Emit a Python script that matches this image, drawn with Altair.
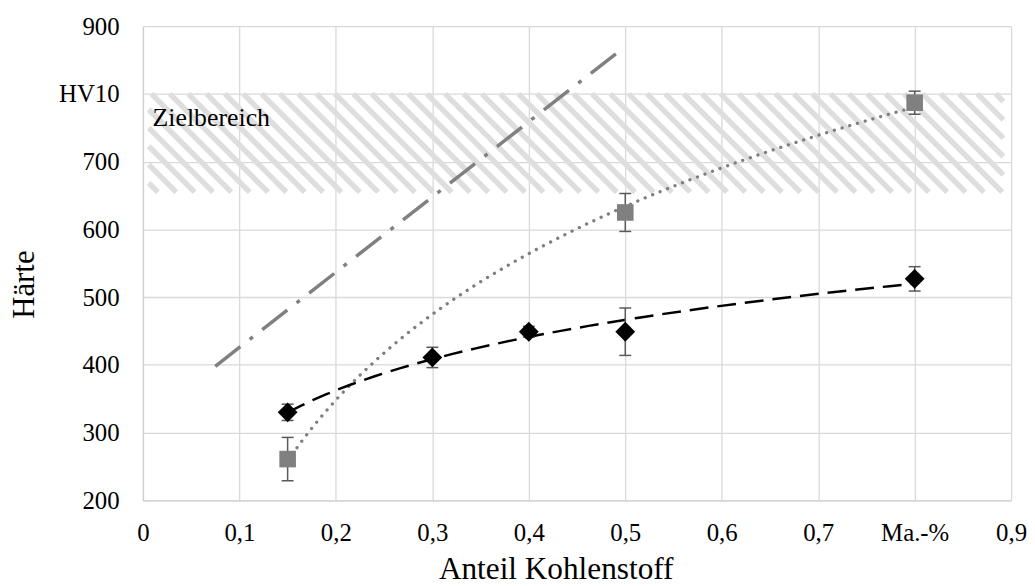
import altair as alt
import numpy as np
import pandas as pd

# ---------------- data ----------------
carbon_a = [0.15, 0.3, 0.4, 0.5, 0.8]
hard_a = [330, 411, 449, 449, 527]
err_a = [12, 15, 8, 35, 18]

carbon_b = [0.15, 0.5, 0.8]
hard_b = [261, 625, 787]
err_b = [32, 28, 17]

ref_x = [0.075, 0.5]
ref_h = [398, 870]

target_lo = 655
target_hi = 800
target_x = [0.006, 0.892]
target_text = ["Zielbereich"]
target_text_pos = [0.01, 752]

x_ticks = [0.0, 0.1, 0.2, 0.3, 0.4, 0.5, 0.6, 0.7, 0.8, 0.9]
y_ticks = [200, 300, 400, 500, 600, 700, 800, 900]

# ---------------- layout / style ----------------
W, H = 875, 478
XDOM = [0, 0.9]
YDOM = [200, 900]
FONT = "Liberation Serif"
GRID = "#d9d9d9"

df_a = pd.DataFrame({"x": carbon_a, "h": hard_a, "e": err_a})
df_a["lo"] = df_a["h"] - df_a["e"]
df_a["hi"] = df_a["h"] + df_a["e"]
df_b = pd.DataFrame({"x": carbon_b, "h": hard_b, "e": err_b})
df_b["lo"] = df_b["h"] - df_b["e"]
df_b["hi"] = df_b["h"] + df_b["e"]
df_ref = pd.DataFrame({"x": ref_x, "h": ref_h})
df_lab = pd.DataFrame({"x": [target_text_pos[0]], "h": [target_text_pos[1]], "t": target_text})

# hatch pattern for the target band (45 degree stripes, clipped to the band)
sx = W / (XDOM[1] - XDOM[0])
sy = H / (YDOM[1] - YDOM[0])
k = sy / sx  # x-units shift per HV unit (45 deg on screen)
spacing = 18.5 / sx
bx0, bx1 = target_x
shift = (target_hi - target_lo) * k
rows = []
for c in np.arange(bx0 - shift + spacing / 2, bx1, spacing):
    xa, ya = c, target_hi
    xb, yb = c + shift, target_lo
    if xa < bx0:
        ya = target_hi - (bx0 - c) / k
        xa = bx0
    if xb > bx1:
        yb = target_hi - (bx1 - c) / k
        xb = bx1
    if ya - yb > 1:
        rows.append({"xa": float(xa), "ya": float(ya), "xb": float(xb), "yb": float(yb)})
df_hatch = pd.DataFrame(rows)

x_scale = alt.Scale(domain=XDOM, nice=False, zero=False)
y_scale = alt.Scale(domain=YDOM, nice=False, zero=False)

x_axis = alt.Axis(
    values=x_ticks,
    title="Anteil Kohlenstoff",
    labelExpr="datum.value == 0 ? '0' : (abs(datum.value - 0.8) < 1e-6 ? 'Ma.-%' : replace(format(datum.value, '.1f'), '.', ','))",
    grid=True, gridColor=GRID, gridWidth=1.3,
    domainColor="#d0d0d0", domainWidth=1.3,
    ticks=False, tickSize=0, labelPadding=20,
    labelFont=FONT, labelFontSize=25, labelColor="black",
    labelFlush=False, labelOverlap=False, labelBound=False,
    titleFont=FONT, titleFontSize=31.5, titleFontWeight="normal", titleColor="black",
    titleX=416, titleY=79, titleBaseline="alphabetic", titleAlign="center",
)
y_axis = alt.Axis(
    values=y_ticks,
    title="Härte",
    labelExpr="datum.value == 800 ? 'HV10' : datum.label",
    grid=True, gridColor=GRID, gridWidth=1.3,
    domainColor="#d0d0d0", domainWidth=1.3,
    ticks=False, tickSize=0, labelPadding=24,
    labelFont=FONT, labelFontSize=25, labelColor="black",
    labelFlush=False, labelOverlap=False, labelBound=False,
    titleFont=FONT, titleFontSize=31, titleFontWeight="normal", titleColor="black",
    titleAngle=270, titleX=-110, titleY=260, titleBaseline="alphabetic", titleAlign="center",
)


def X(f):
    return alt.X(f"{f}:Q", scale=x_scale, axis=x_axis)


def Y(f):
    return alt.Y(f"{f}:Q", scale=y_scale, axis=y_axis)


hatch = alt.Chart(df_hatch).mark_rule(
    color="#dedede", strokeWidth=5.5, strokeCap="butt", opacity=1
).encode(x=X("xa"), y=Y("ya"), x2="xb", y2="yb")

label = alt.Chart(df_lab).mark_text(
    align="left", baseline="alphabetic", font=FONT, fontSize=26, color="black"
).encode(x=X("x"), y=Y("h"), text="t:N")

ref = alt.Chart(df_ref).mark_line(
    color="#808080", strokeWidth=3.5, strokeDash=[32, 12, 4, 12], strokeCap="butt"
).encode(x=X("x"), y=Y("h"))

fit_b = alt.Chart(df_b).transform_regression("x", "h", method="log").mark_line(
    color="#7f7f7f", strokeWidth=3.3, strokeDash=[0.1, 8], strokeCap="round"
).encode(x=X("x"), y=Y("h"))

fit_a = alt.Chart(df_a).transform_regression("x", "h", method="log").mark_line(
    color="black", strokeWidth=2.5, strokeDash=[19, 9], strokeCap="butt"
).encode(x=X("x"), y=Y("h"))

err_df = pd.concat([df_a, df_b], ignore_index=True)
err_rule = alt.Chart(err_df).mark_rule(color="#595959", strokeWidth=1.5).encode(
    x=X("x"), y=Y("lo"), y2="hi"
)
err_caps = alt.Chart(err_df).transform_fold(["lo", "hi"], as_=["k", "v"]).mark_tick(
    orient="horizontal", size=12, thickness=1.5, color="#595959", opacity=1
).encode(x=X("x"), y=Y("v"))

pts_b = alt.Chart(df_b).mark_point(
    shape="square", filled=True, size=280, color="#808080", opacity=1
).encode(x=X("x"), y=Y("h"))

pts_a = alt.Chart(df_a).mark_point(
    shape="diamond", filled=True, size=400, color="black", opacity=1
).encode(x=X("x"), y=Y("h"))

chart = alt.layer(
    hatch, label, ref, fit_b, fit_a, err_rule, err_caps, pts_b, pts_a
).properties(
    width=W, height=H,
    autosize=alt.AutoSizeParams(type="none"),
    padding={"left": 136, "top": 16, "right": 16, "bottom": 86},
    background="white",
).configure_view(stroke=None)

chart.save("out.html", embed_options={"renderer": "svg", "actions": False})
